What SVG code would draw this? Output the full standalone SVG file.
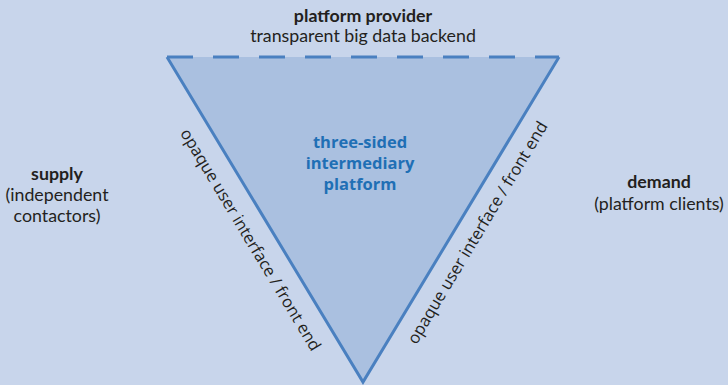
<svg xmlns="http://www.w3.org/2000/svg" width="728" height="385" viewBox="0 0 728 385">
<style>
.lbl{font-family:Lato,"Open Sans","Liberation Sans",sans-serif;font-size:17.8px;fill:#231f20;text-anchor:middle}
.b{font-weight:bold}
.edge{font-family:"Open Sans","Liberation Sans",sans-serif;font-size:16.5px;fill:#231f20;text-anchor:middle}
.core{font-family:"Open Sans","Liberation Sans",sans-serif;font-size:16.5px;font-weight:bold;fill:#1f6fb5;text-anchor:middle}
.side{stroke:#4a80c0;stroke-width:3;fill:none;stroke-linejoin:miter}
</style>
<rect width="728" height="385" fill="#c8d5eb"/>
<g id="platform">
<polygon points="167,57 559,57 363,382" fill="#aac0e0"/>
<polyline class="side" points="167,57 363,382 559,57"/>
<line class="side" x1="167" y1="57" x2="559" y2="57" stroke-dasharray="26 20"/>
<text class="core" x="360" y="148">three-sided</text>
<text class="core" x="360" y="169">intermediary</text>
<text class="core" x="360" y="190">platform</text>
</g>
<g id="provider">
<text class="lbl b" x="363" y="22">platform provider</text>
<text class="lbl" x="363" y="42">transparent big data backend</text>
</g>
<g id="supply">
<text class="lbl b" x="57" y="180">supply</text>
<text class="lbl" x="57" y="201">(independent</text>
<text class="lbl" x="57" y="222">contactors)</text>
</g>
<g id="demand">
<text class="lbl b" x="659" y="188">demand</text>
<text class="lbl" x="659" y="210">(platform clients)</text>
</g>
<g id="connectors">
<text class="edge" transform="translate(250,240) rotate(59)" y="5">opaque user interface / front end</text>
<text class="edge" transform="translate(478,233) rotate(-59)" y="5">opaque user interface / front end</text>
</g>
</svg>
